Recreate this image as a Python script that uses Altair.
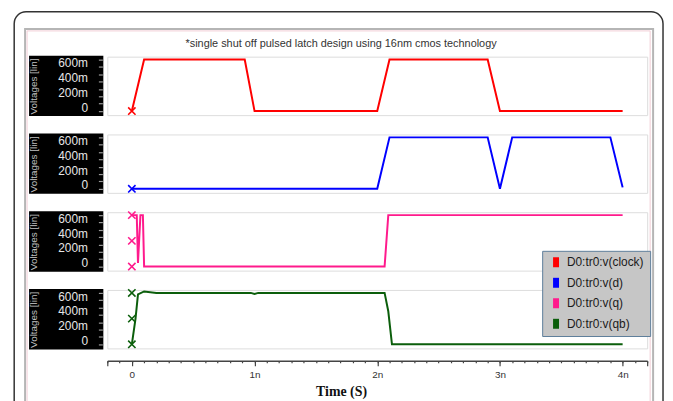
import altair as alt
import pandas as pd

# ---------------- data ----------------
series_names = ["D0:tr0:v(clock)", "D0:tr0:v(d)", "D0:tr0:v(q)", "D0:tr0:v(qb)"]
series_colors = ["#ff0000", "#0000ff", "#ff1a8c", "#0b5e0b"]

clock_t = [0.0, 0.1, 0.92, 1.0, 2.0, 2.1, 2.9, 3.0, 4.0]
clock_v = [0.0, 0.7, 0.7, 0.0, 0.0, 0.7, 0.7, 0.0, 0.0]

d_t = [0.0, 2.0, 2.1, 2.9, 3.0, 3.1, 3.9, 4.0]
d_v = [0.0, 0.0, 0.7, 0.7, 0.0, 0.7, 0.7, 0.02]

q_t = [0.0, 0.04, 0.05, 0.07, 0.09, 0.1, 2.06, 2.09, 4.0]
q_v = [0.7, 0.7, 0.05, 0.7, 0.7, 0.0, 0.0, 0.7, 0.7]

qb_t = [0.0, 0.03, 0.05, 0.1, 0.2, 0.97, 1.0, 1.03, 2.06, 2.09, 2.12, 4.0]
qb_v = [0.0, 0.35, 0.68, 0.72, 0.7, 0.7, 0.685, 0.7, 0.7, 0.45, 0.0, 0.0]

marker_series = ["D0:tr0:v(clock)", "D0:tr0:v(d)",
                 "D0:tr0:v(q)", "D0:tr0:v(q)", "D0:tr0:v(q)",
                 "D0:tr0:v(qb)", "D0:tr0:v(qb)", "D0:tr0:v(qb)"]
marker_t = [0.0, 0.0, 0.0, 0.0, 0.0, 0.0, 0.0, 0.0]
marker_v = [0.0, 0.0, 0.7, 0.35, 0.0, 0.7, 0.35, 0.0]

x_major_ticks = [-0.2, 0.0, 1.0, 2.0, 3.0, 4.0, 4.2]
x_minor_ticks = [round(-0.2 + 0.1 * i, 1) for i in range(45)]
y_major_ticks = [0.0, 0.2, 0.4, 0.6]
y_minor_ticks = [0.1, 0.3, 0.5, 0.7]

title_text = "*single shut off pulsed latch design using 16nm cmos technology"

# ---------------- tables ----------------
rows = []
for name, ts, vs in [(series_names[0], clock_t, clock_v),
                     (series_names[1], d_t, d_v),
                     (series_names[2], q_t, q_v),
                     (series_names[3], qb_t, qb_v)]:
    for i, (t, v) in enumerate(zip(ts, vs)):
        rows.append({"series": name, "t": t, "v": v, "i": i})
lines_df = pd.DataFrame(rows)
markers_df = pd.DataFrame({"series": marker_series, "t": marker_t, "v": marker_v})
one = alt.InlineData(values=[{"k": 0}])

W, H = 545, 59
FONT = "Liberation Sans"
X_PATH = "M-1,-1L1,1M-1,1L1,-1"

color_scale = alt.Scale(domain=series_names, range=series_colors)
x_scale = alt.Scale(domain=[-0.2, 4.2], nice=False, zero=False)
y_scale = alt.Scale(domain=[-0.055, 0.74], nice=False, zero=False)

legend = alt.Legend(
    orient="none", legendX=439, legendY=196, title=None,
    fillColor="#c6c6c6", strokeColor="#5d7d9a", padding=6,
    symbolType="M0,-1L0,1", symbolSize=100, symbolStrokeWidth=6,
    labelFont=FONT, labelFontSize=12, labelColor="#1a1a1a",
    labelOffset=3, rowPadding=7.7, clipHeight=11,
)

x_axis_major = alt.Axis(
    orient="bottom", values=x_major_ticks,
    labelExpr="(datum.value >= 0 && datum.value <= 4) ? (datum.value == 0 ? '0' : round(datum.value) + 'n') : ''",
    labelOverlap=False, labelFont=FONT, labelFontSize=10, labelColor="#333",
    labelPadding=4, offset=12.5, grid=False,
    domainColor="#444", domainWidth=1.5, tickColor="#444", tickWidth=1.2, tickSize=5,
    title="Time (S)", titleFont="Liberation Serif", titleFontSize=14,
    titleFontWeight="bold", titleColor="#111", titleX=236, titleY=31,
    titleBaseline="middle", titleAlign="center",
)
x_axis_minor = alt.Axis(
    orient="bottom", values=x_minor_ticks, labels=False, domain=False,
    offset=12.5, grid=False, tickColor="#444", tickWidth=1.2, tickSize=2, title="",
)

y_axis_major = alt.Axis(
    orient="left", values=y_major_ticks,
    labelExpr="datum.value == 0 ? '0' : round(datum.value * 1000) + 'm'",
    labelOverlap=False, labelFont=FONT, labelFontSize=12, labelColor="#e6e6e6",
    labelPadding=11, labelOffset=-4, offset=5, grid=False, domain=False,
    tickColor="#9a9a9a", tickSize=4, tickWidth=1.2, zindex=1,
    title="Voltages [lin]", titleFont=FONT, titleFontSize=10, titleFontWeight="normal",
    titleColor="#c0c0c0", titleAngle=270, titleAlign="left", titleBaseline="middle",
    titleX=-69, titleY=H - 1, titleLimit=57,
)
y_axis_minor = alt.Axis(
    orient="left", values=y_minor_ticks, labels=False, domain=False, offset=5,
    grid=False, tickColor="#9a9a9a", tickSize=4, tickWidth=1.2, zindex=1, title="",
)


def panel(idx, show_x):
    name = series_names[idx]
    black = alt.Chart(one).mark_rect(color="black").encode(
        x=alt.value(-79), x2=alt.value(-4), y=alt.value(-1), y2=alt.value(H + 1))
    line = alt.Chart(lines_df).transform_filter(alt.datum.series == name).mark_line(
        strokeWidth=2).encode(
        x=alt.X("t:Q", scale=x_scale, axis=x_axis_major if show_x else None),
        y=alt.Y("v:Q", scale=y_scale, axis=y_axis_major),
        color=alt.Color("series:N", scale=color_scale, legend=legend),
        order="i:Q")
    marks = alt.Chart(markers_df).transform_filter(alt.datum.series == name).mark_point(
        shape=X_PATH, filled=False, size=55, strokeWidth=1.6, opacity=1).encode(
        x=alt.X("t:Q", scale=x_scale, axis=x_axis_minor if show_x else None),
        y=alt.Y("v:Q", scale=y_scale, axis=y_axis_minor),
        stroke=alt.Stroke("series:N", scale=color_scale, legend=None))
    layers = [black, line, marks]
    if idx == 0:
        card = alt.Chart(one).mark_rect(fillOpacity=0, stroke="#333333", strokeWidth=1.5,
                                        cornerRadius=12).encode(
            x=alt.value(-94), x2=alt.value(561), y=alt.value(-45.25), y2=alt.value(400))
        frame = alt.Chart(one).mark_rect(fillOpacity=0, stroke="#b5b5b5", strokeWidth=2).encode(
            x=alt.value(-83), x2=alt.value(551), y=alt.value(-28), y2=alt.value(400))
        pink = alt.Chart(one).mark_rect(fillOpacity=0, stroke="#f2cdd6", strokeWidth=1).encode(
            x=alt.value(-81), x2=alt.value(548), y=alt.value(-26), y2=alt.value(400))
        title = alt.Chart(one).mark_text(
            text=title_text, font=FONT, fontSize=11, color="#333333",
            align="center", baseline="middle").encode(
            x=alt.value(236), y=alt.value(-13))
        layers = [card, frame, pink, title] + layers
    return alt.layer(*layers).resolve_axis(x="independent", y="independent").properties(
        width=W, height=H)


chart = alt.vconcat(
    panel(0, False), panel(1, False), panel(2, False), panel(3, True),
    spacing=19.5, bounds="flush",
).resolve_scale(
    y="independent", color="shared", stroke="shared"
).properties(
    padding={"left": 4.25, "top": 0, "right": 0, "bottom": 0},
    background="white",
).configure_view(
    stroke="#6e6e6e", strokeWidth=1.5
).configure(font=FONT)

chart.save("out.html", embed_options={"renderer": "svg", "actions": False})
